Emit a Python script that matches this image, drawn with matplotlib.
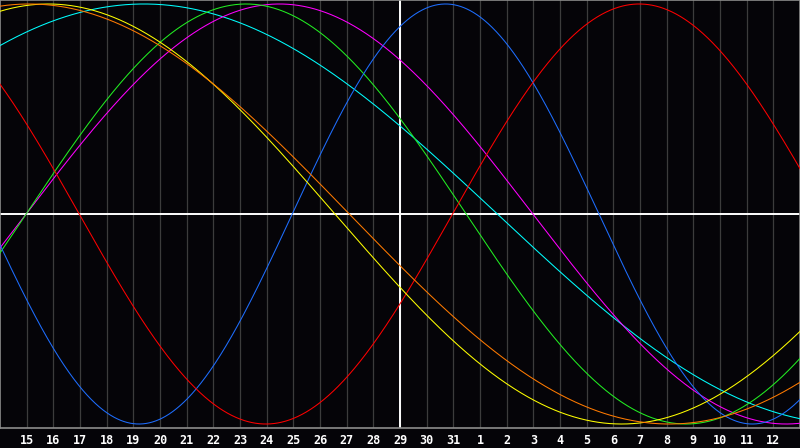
import numpy as np
import matplotlib
matplotlib.use("Agg")
import matplotlib.pyplot as plt

# Tick labels: days of month shown at each day gridline (day 14 is the left edge)
day_labels = [15, 16, 17, 18, 19, 20, 21, 22, 23, 24, 25, 26, 27, 28, 29, 30, 31,
              1, 2, 3, 4, 5, 6, 7, 8, 9, 10, 11, 12]
n_days = 30          # days spanned by the chart width
today_index = 15     # the "29" gridline (marked by the white vertical line)

# Biorhythm cycles: period (days) and cycle position (days into the cycle) at left edge
cycle_names  = ["physical", "emotional", "intellectual", "intuitive",
                "aesthetic", "awareness", "spiritual"]
periods      = [23, 28, 33, 38, 43, 48, 53]
start_phase  = [12.04, 11.03, 32.02, 37.02, 8.94, 10.9, 7.85]
colors       = ["#1e6eff", "#ff0000", "#22ee22", "#ff00ff",
                "#ffff00", "#ff7a00", "#00ffff"]
draw_order   = [6, 3, 2, 0, 1, 4, 5]

fig = plt.figure(figsize=(8.0, 4.48), dpi=100, facecolor="#050408")
ax = fig.add_axes([0, 20 / 448, 1, 428 / 448])
ax.set_facecolor("#050408")

d = np.linspace(0, n_days, 1500)
for i in draw_order:
    y = np.sin(2 * np.pi * (d + start_phase[i]) / periods[i])
    ax.plot(d, y, color=colors[i], lw=0.75, zorder=3, antialiased=True)

# day gridlines
for k in range(1, n_days):
    ax.axvline(k, color="#3c3c3c", lw=0.9, zorder=1)

# center cross
ax.axvline(today_index, color="white", lw=1.4, zorder=2)
ax.axhline(0, color="white", lw=1.4, zorder=2)

ax.set_xlim(0, n_days)
ax.set_ylim(-1.019, 1.019)

for s in ax.spines.values():
    s.set_color("#8c8c8c")
    s.set_linewidth(1.2)

ax.set_xticks(range(1, n_days))
ax.set_xticklabels([str(v) for v in day_labels], color="white",
                   fontfamily="DejaVu Sans Mono", fontweight="bold", fontsize=8.5)
ax.tick_params(axis="x", length=0, pad=4.5)
ax.set_yticks([])

fig.savefig("out.png", dpi=100, facecolor=fig.get_facecolor())
